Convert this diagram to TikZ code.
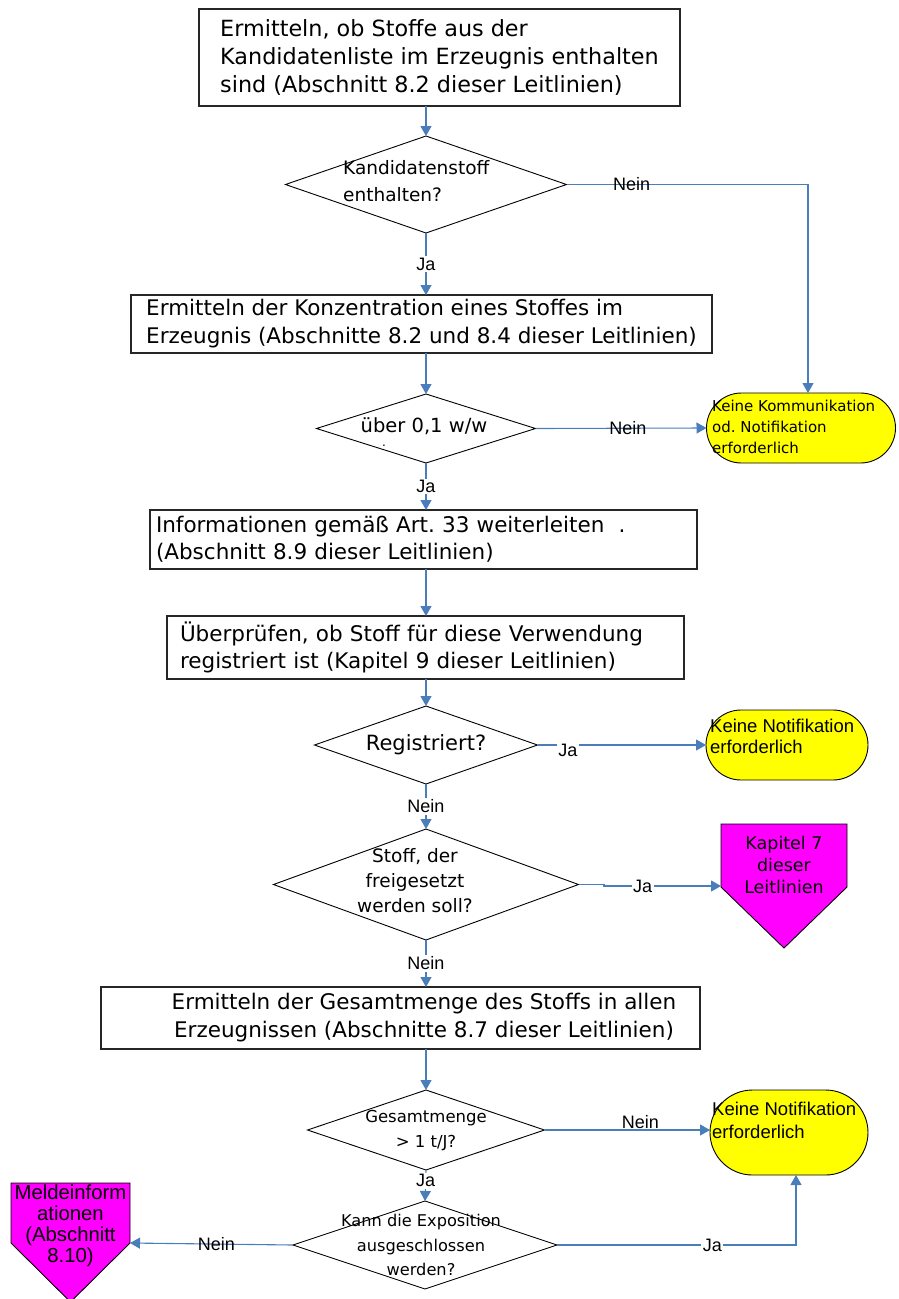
\documentclass[tikz,border=0pt]{standalone}
\usepackage{fontspec}
\setmainfont{DejaVu Sans}
\newfontfamily\arialfont{Liberation Sans}
\usetikzlibrary{shapes.geometric,shapes.misc,arrows.meta}
\definecolor{lineblue}{RGB}{74,126,187}
\definecolor{termyellow}{RGB}{255,255,0}
\definecolor{pagemagenta}{RGB}{255,0,255}
\newcommand{\fs}[2]{\fontsize{#1}{#2}\selectfont}
\frenchspacing

\begin{document}
\begin{tikzpicture}[x=1pt,y=-1pt,
  flow/.style={draw=lineblue, line width=1.1pt, -{Triangle[length=10pt,width=11pt]}},
  procbox/.style={draw=black!85, line width=1.3pt, inner sep=0pt, outer sep=0pt},
  decision/.style={draw=black, line width=0.9pt, diamond, inner sep=0pt, outer sep=0pt},
  dtext/.style={inner sep=0pt},
  terminal/.style={rounded rectangle, draw=black, line width=0.9pt, fill=termyellow, inner sep=0pt, outer sep=0pt},
  offpage/.style={draw=black, line width=0.9pt, fill=pagemagenta},
  lbl/.style={fill=white, inner sep=1.5pt, font=\arialfont\fs{18}{21}},
  lblthru/.style={inner sep=0pt, font=\arialfont\fs{18}{21}},
]
\useasboundingbox (0,0) rectangle (898,1299);

% main column
\coordinate (col) at (426,0);

% ---------- process boxes ----------
\node[procbox, minimum width=481, minimum height=97, align=left, font=\fs{22.3}{28}] (b1) at (439.5,57.5)
  {Ermitteln, ob Stoffe aus der\\Kandidatenliste im Erzeugnis enthalten\\sind (Abschnitt 8.2 dieser Leitlinien)};
\node[procbox, minimum width=581, minimum height=58, align=left, font=\fs{21.5}{28}] (b2) at (421.5,324)
  {Ermitteln der Konzentration eines Stoffes im\\Erzeugnis (Abschnitte 8.2 und 8.4 dieser Leitlinien)};
\node[procbox, minimum width=547, minimum height=59, text width=535, align=left, font=\fs{21.5}{27}] (b3) at (423.5,539.5)
  {Informationen gemäß Art. 33 weiterleiten \ .\\(Abschnitt 8.9 dieser Leitlinien)};
\node[procbox, minimum width=517, minimum height=63, text width=491, align=left, font=\fs{21.5}{27}] (b4) at (425.5,647.5)
  {Überprüfen, ob Stoff für diese Verwendung\\registriert ist (Kapitel 9 dieser Leitlinien)};
\node[procbox, minimum width=599, minimum height=62] (b5) at (400.5,1018) {};
\node[dtext, align=center, font=\fs{21.5}{28}] (b5t) at (424,1018)
  {Ermitteln der Gesamtmenge des Stoffs in allen\\Erzeugnissen (Abschnitte 8.7 dieser Leitlinien)};

% ---------- decisions ----------
\node[decision, minimum width=281, minimum height=97] (d1) at (426,184.5) {};
\node[dtext, anchor=west, align=left, font=\fs{18.5}{27}] (d1t) at (343,181.5) {Kandidatenstoff\\enthalten?};

\node[decision, minimum width=219, minimum height=69] (d2) at (426,428.5) {};
\node[dtext, font=\fs{19.5}{24}] (d2t) at (424,426) {über 0,1 w/w};
\node[dtext, font=\fs{12}{12}] (d2dot) at (384,446) {.};

\node[decision, minimum width=223, minimum height=78] (d3) at (426,745) {};
\node[dtext, font=\fs{21}{26}] (d3t) at (426,745) {Registriert?};

\node[decision, minimum width=305, minimum height=111] (d4) at (426,884.5) {};
\node[dtext, align=center, font=\fs{18.5}{25}] (d4t) at (415,881) {Stoff, der\\freigesetzt\\werden soll?};

\node[decision, minimum width=237, minimum height=80] (d5) at (426,1130) {};
\node[dtext, align=center, font=\fs{16.5}{25}] (d5t) at (426,1130.5) {Gesamtmenge\\> 1 t/J?};

\node[decision, minimum width=264, minimum height=88] (d6) at (425,1245) {};
\node[dtext, align=center, font=\fs{16.2}{24.5}] (d6t) at (421,1245) {Kann die Exposition\\ausgeschlossen\\werden?};

% ---------- terminals ----------
\node[terminal, minimum width=189, minimum height=70] (y1) at (801,428) {};
\node[dtext, anchor=west, align=left, font=\fs{15}{21}] (y1t) at (712,427) {Keine Kommunikation\\od. Notifikation\\erforderlich};
\coordinate (y1in) at (808,393);

\node[terminal, minimum width=162, minimum height=70] (y2) at (787,745) {};
\node[dtext, anchor=west, align=left, font=\arialfont\fs{18.5}{21}] (y2t) at (710,736) {Keine Notifikation\\erforderlich};

\node[terminal, minimum width=158, minimum height=85] (y3) at (789,1132.5) {};
\node[dtext, anchor=west, align=left, font=\arialfont\fs{18.5}{23}] (y3t) at (712,1120) {Keine Notifikation\\erforderlich};
\coordinate (y3in) at (796,1175);

% ---------- off-page references ----------
\filldraw[offpage] (721,824) -- (847,824) -- (847,887) -- (784,948) -- (721,887) -- cycle;
\node[dtext, align=center, font=\fs{17.5}{22}] (m1t) at (784,865) {Kapitel 7\\dieser\\Leitlinien};
\coordinate (m1in) at (721,886);

\filldraw[offpage] (11,1183) -- (130,1183) -- (130,1243) -- (70.5,1302) -- (11,1243) -- cycle;
\node[dtext, align=center, font=\arialfont\fs{20.3}{21}] (m2t) at (70.5,1226) {Meldeinform\\ationen\\(Abschnitt\\8.10)};
\coordinate (m2in) at (130,1243);

% ---------- connectors ----------
\draw[flow] (col |- b1.south) -- (d1.north);
\draw[flow] (d1.south) -- node[lbl] {Ja} (col |- b2.north);
\draw[flow] (d1.east) -- node[lblthru, pos=0.27] {Nein} (d1.east -| y1in) -- (y1in);

\draw[flow] (col |- b2.south) -- (d2.north);
\draw[flow] (d2.east) -- node[lblthru, pos=0.54] {Nein} (y1.west);
\draw[flow] (d2.south) -- node[lbl] {Ja} (col |- b3.north);

\draw[flow] (col |- b3.south) -- (col |- b4.north);
\draw[flow] (col |- b4.south) -- (d3.north);

\draw[flow] (d3.east) -- node[lbl, pos=0.18, yshift=-5pt] {Ja} (y2.west);
\draw[flow] (d3.south) -- node[lbl] {Nein} (d4.north);

\draw[flow] (d4.east) -- (604,884.5) -- (604,886) -- node[lbl, pos=0.33] {Ja} (m1in);
\draw[flow] (d4.south) -- node[lbl] {Nein} (col |- b5.north);

\draw[flow] (col |- b5.south) -- (d5.north);
\draw[flow] (d5.east) -- node[lblthru, pos=0.58, yshift=8pt] {Nein} (d5.east -| y3.west);
\draw[flow] (d5.south) -- node[lbl, pos=0.35] {Ja} (d6.north);

\draw[flow] (d6.west) -- node[lblthru, pos=0.47] {Nein} (m2in);
\draw[flow] (d6.east) -- node[lbl, pos=0.65] {Ja} (d6.east -| y3in) -- (y3in);
\end{tikzpicture}
\end{document}
